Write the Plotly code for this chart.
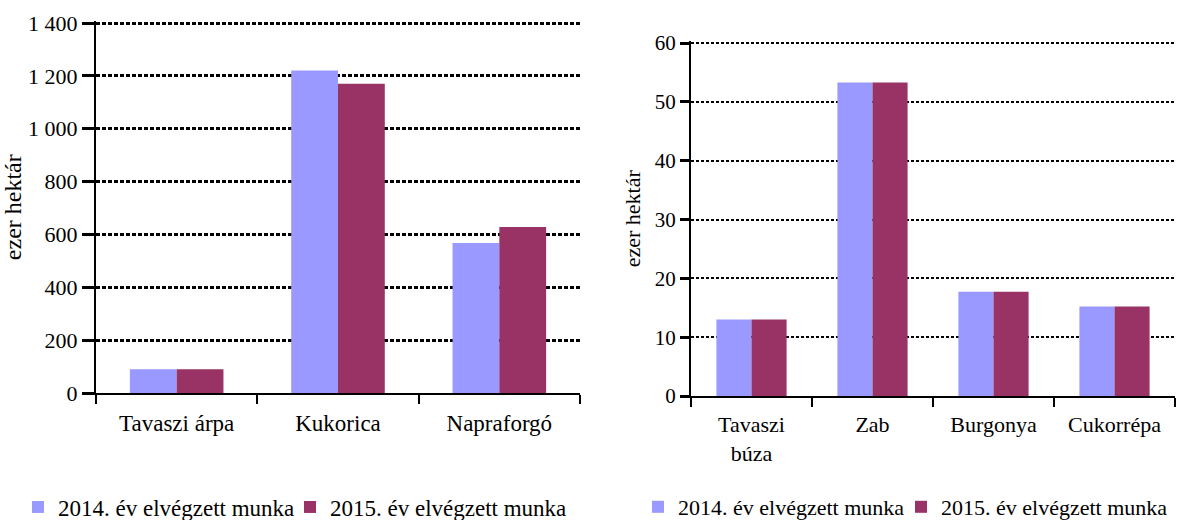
import plotly.graph_objects as go

left_categories = ["Tavaszi árpa", "Kukorica", "Napraforgó"]
left_2014 = [90, 1220, 568]
left_2015 = [90, 1170, 628]

right_categories = ["Tavaszi<br>búza", "Zab", "Burgonya", "Cukorrépa"]
right_2014 = [13.0, 53.3, 17.7, 15.2]
right_2015 = [13.0, 53.3, 17.7, 15.2]

left_ticks = [0, 200, 400, 600, 800, 1000, 1200, 1400]
right_ticks = [0, 10, 20, 30, 40, 50, 60]

series_names = ["2014. év elvégzett munka", "2015. év elvégzett munka"]
colors = ["#9999FF", "#993366"]
y_title = "ezer hektár"

W, H = 1177, 520
FONT = "Liberation Serif"


def px_x(p):
    return p / W


def px_y(p):
    return (H - p) / H


def tf(size):
    return dict(size=size, color="black", family=FONT)


fig = go.Figure()
fig.add_trace(go.Bar(x=left_categories, y=left_2014, name=series_names[0],
                     marker=dict(color=colors[0], line=dict(width=0)),
                     xaxis="x", yaxis="y", legend="legend"))
fig.add_trace(go.Bar(x=left_categories, y=left_2015, name=series_names[1],
                     marker=dict(color=colors[1], line=dict(width=0)),
                     xaxis="x", yaxis="y", legend="legend2"))
fig.add_trace(go.Bar(x=right_categories, y=right_2014, name=series_names[0],
                     marker=dict(color=colors[0], line=dict(width=0)),
                     xaxis="x2", yaxis="y2", legend="legend3"))
fig.add_trace(go.Bar(x=right_categories, y=right_2015, name=series_names[1],
                     marker=dict(color=colors[1], line=dict(width=0)),
                     xaxis="x2", yaxis="y2", legend="legend4"))


def xaxis_style(size):
    return dict(showline=True, linecolor="black", linewidth=2, ticks="outside",
                tickson="boundaries", ticklen=9, tickwidth=2, tickcolor="black",
                showgrid=False, tickfont=tf(size), ticklabelstandoff=8,
                automargin=False, fixedrange=True)


def yaxis_style(size, title_size, ticklen, gw, dash, standoff):
    return dict(showline=True, linecolor="black", linewidth=2, ticks="outside",
                ticklen=ticklen, tickwidth=3, tickcolor="black",
                showgrid=True, gridcolor="black", gridwidth=gw, griddash=dash,
                tickfont=tf(size), zeroline=False,
                title=dict(text=y_title, font=tf(title_size), standoff=standoff),
                automargin=False, fixedrange=True)


def legend_at(x_text, size):
    return dict(orientation="h", x=px_x(x_text - 40), y=px_y(507), xanchor="left",
                yanchor="middle", font=tf(size), itemwidth=30,
                itemclick=False, itemdoubleclick=False, bgcolor="rgba(0,0,0,0)")


def y_domain(zero_px, top_px, top_val, range_max):
    span = (zero_px - top_px) * range_max / top_val
    return [px_y(zero_px), px_y(zero_px - span)]


L_MAX, R_MAX = 1406, 60.26

fig.update_layout(
    width=W, height=H,
    margin=dict(l=0, r=0, t=0, b=0, autoexpand=False),
    paper_bgcolor="white", plot_bgcolor="white",
    font=dict(family=FONT, size=22, color="black"),
    separators=". ",
    barmode="group", bargap=0.42, bargroupgap=0,
    xaxis=dict(domain=[px_x(96), px_x(580)], anchor="y", **xaxis_style(23)),
    yaxis=dict(domain=y_domain(393, 23, 1400, L_MAX), anchor="x", range=[0, L_MAX],
               tickvals=left_ticks, tickformat=",d",
               **yaxis_style(22, 24, 12, 2.5, "4px,2px", 5)),
    xaxis2=dict(domain=[px_x(691), px_x(1175)], anchor="y2", **xaxis_style(22)),
    yaxis2=dict(domain=y_domain(396, 43, 60, R_MAX), anchor="x2", range=[0, R_MAX],
                tickvals=right_ticks,
                **yaxis_style(21, 22, 9, 2, "3px,2px", 8)),
    legend=legend_at(58, 23),
    legend2=legend_at(330, 23),
    legend3=legend_at(678, 22),
    legend4=legend_at(941, 22),
    showlegend=True,
)

fig.write_html("out.html", config={"displayModeBar": False},
               post_script="document.body.style.margin='0';document.body.style.padding='0';")
